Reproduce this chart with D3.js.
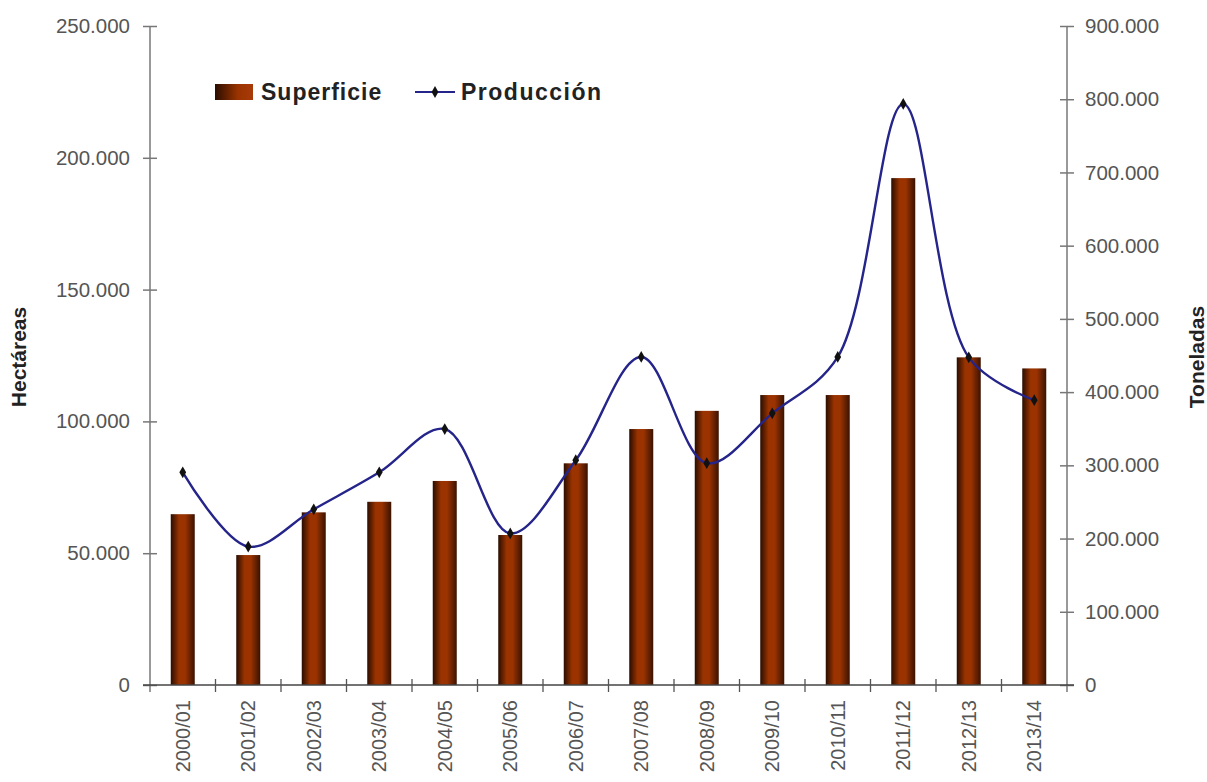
<!DOCTYPE html>
<html><head><meta charset="utf-8">
<script src="https://cdn.jsdelivr.net/npm/d3@7"></script>
<style>body{margin:0;background:#fff}svg{display:block}</style>
</head><body>
<svg id="c" width="1207" height="782"></svg>
<script>
const categories = ["2000/01","2001/02","2002/03","2003/04","2004/05","2005/06","2006/07","2007/08","2008/09","2009/10","2010/11","2011/12","2012/13","2013/14"];
const superficie = [64800,49300,65500,69500,77400,56900,84100,97100,104000,110000,110000,192300,124300,120100];
const produccion = [290500,189000,240000,290500,349600,207000,307000,448000,303000,371000,448000,793500,447500,389000];
const leftTicks = [0,50000,100000,150000,200000,250000];
const rightTicks = [0,100000,200000,300000,400000,500000,600000,700000,800000,900000];

const svg = d3.select("#c");
const L = 150, R = 1067, T = 26, B = 685;
const fmt = v => d3.format(",")(v).replace(/,/g, ".");

const x = d3.scaleBand().domain(categories).range([L, R]).paddingInner(0).paddingOuter(0);
const yL = d3.scaleLinear().domain([0, 250000]).range([B, T]);
const yR = d3.scaleLinear().domain([0, 900000]).range([B, T]);

const defs = svg.append("defs");
const g = defs.append("linearGradient").attr("id","barg").attr("x1","0").attr("x2","1").attr("y1","0").attr("y2","0");
g.append("stop").attr("offset","0").attr("stop-color","#2a0d00");
g.append("stop").attr("offset","0.35").attr("stop-color","#9a3300");
g.append("stop").attr("offset","0.6").attr("stop-color","#9a3300");
g.append("stop").attr("offset","1").attr("stop-color","#3a1200");

// bars
const bw = 24;
svg.append("g").selectAll("rect").data(superficie).join("rect")
  .attr("x", (d,i) => x(categories[i]) + x.bandwidth()/2 - bw/2)
  .attr("y", d => yL(d))
  .attr("width", bw)
  .attr("height", d => B - yL(d))
  .attr("fill", "url(#barg)");

const axisColor = "#777";
const labelColor = "#555";
const tickFont = "'Liberation Sans', Arial, sans-serif";

// left axis
const la = svg.append("g").attr("transform", `translate(${L},0)`)
  .call(d3.axisLeft(yL).tickValues(leftTicks).tickFormat(fmt).tickSize(7).tickPadding(13));
la.select(".domain").attr("stroke", axisColor).attr("stroke-width", 1.5).attr("d", `M0,${T}V${B+7}`);
la.selectAll(".tick line").attr("stroke", axisColor).attr("stroke-width", 1.5).attr("x1", 7).attr("x2", -7);
la.selectAll(".tick text").attr("fill", labelColor).style("font", `20.5px ${tickFont}`);

// right axis
const ra = svg.append("g").attr("transform", `translate(${R},0)`)
  .call(d3.axisRight(yR).tickValues(rightTicks).tickFormat(fmt).tickSize(7).tickPadding(11));
ra.select(".domain").attr("stroke", axisColor).attr("stroke-width", 1.5).attr("d", `M0,${T}V${B+7}`);
ra.selectAll(".tick line").attr("stroke", axisColor).attr("stroke-width", 1.5).attr("x1", -7).attr("x2", 7);
ra.selectAll(".tick text").attr("fill", labelColor).style("font", `20.5px ${tickFont}`);

// x axis
svg.append("line").attr("x1", L - 7).attr("x2", R + 7).attr("y1", B).attr("y2", B)
  .attr("stroke", "#444").attr("stroke-width", 1.5);
svg.append("g").selectAll("line").data(categories.slice(1)).join("line")
  .attr("x1", d => x(d)).attr("x2", d => x(d)).attr("y1", B - 6).attr("y2", B + 7)
  .attr("stroke", "#555").attr("stroke-width", 1.3);
svg.append("g").selectAll("text").data(categories).join("text")
  .attr("transform", d => `translate(${x(d) + x.bandwidth()/2 + 7},${B + 15}) rotate(-90)`)
  .attr("text-anchor", "end")
  .attr("fill", labelColor)
  .style("font", `20px ${tickFont}`)
  .text(d => d);

// axis titles
svg.append("text").attr("transform", `translate(26,357) rotate(-90)`).attr("text-anchor","middle")
  .attr("fill","#222").style("font", `bold 21px ${tickFont}`).text("Hectáreas");
svg.append("text").attr("transform", `translate(1204,357) rotate(-90)`).attr("text-anchor","middle")
  .attr("fill","#222").style("font", `bold 21px ${tickFont}`).text("Toneladas");

// line
const lineColor = "#24248a";
const line = d3.line()
  .x((d,i) => x(categories[i]) + x.bandwidth()/2)
  .y(d => yR(d))
  .curve(d3.curveCatmullRom.alpha(0.5));
svg.append("path").datum(produccion).attr("d", line).attr("fill","none")
  .attr("stroke", lineColor).attr("stroke-width", 2.4);
const diamond = d3.symbol().type(d3.symbolDiamond).size(40);
svg.append("g").selectAll("path").data(produccion).join("path")
  .attr("transform", (d,i) => `translate(${x(categories[i]) + x.bandwidth()/2},${yR(d)})`)
  .attr("d", diamond).attr("fill", "#111");

// legend
const lg = svg.append("g");
const lg2 = defs.append("linearGradient").attr("id","legg").attr("x1","0").attr("x2","1");
lg2.append("stop").attr("offset","0").attr("stop-color","#2a0d00");
lg2.append("stop").attr("offset","0.6").attr("stop-color","#9a3300");
lg2.append("stop").attr("offset","1").attr("stop-color","#a83a08");
lg.append("rect").attr("x", 215).attr("y", 84).attr("width", 38).attr("height", 16).attr("fill","url(#legg)");
lg.append("text").attr("x", 261).attr("y", 100).attr("fill","#222")
  .style("font", `bold 23px ${tickFont}`).style("letter-spacing","1px").text("Superficie");
lg.append("line").attr("x1", 415).attr("x2", 455).attr("y1", 92).attr("y2", 92)
  .attr("stroke", lineColor).attr("stroke-width", 2);
lg.append("path").attr("transform","translate(435,92)").attr("d", diamond).attr("fill","#111");
lg.append("text").attr("x", 461).attr("y", 100).attr("fill","#222")
  .style("font", `bold 23px ${tickFont}`).style("letter-spacing","1.5px").text("Producción");
</script>
</body></html>
